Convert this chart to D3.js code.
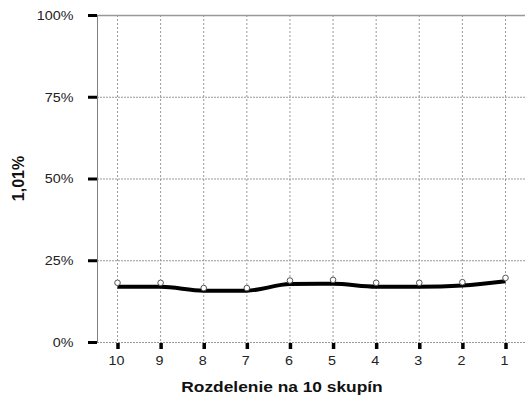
<!DOCTYPE html>
<html><head><meta charset="utf-8">
<script src="https://cdn.jsdelivr.net/npm/d3@7"></script>
<style>body{margin:0;background:#fff;}svg{display:block;font-family:"Liberation Sans",Arial,sans-serif;}</style>
</head><body>
<svg id="c" width="525" height="396"></svg>
<script>
const categories = ["10","9","8","7","6","5","4","3","2","1"];
const markerValues = [18.1, 18.1, 16.5, 16.5, 18.8, 19.0, 18.1, 18.1, 18.3, 19.6];
const lineValues = [16.9, 16.9, 15.7, 15.7, 17.7, 17.8, 16.9, 16.9, 17.3, 18.6];
const yTicks = [0, 25, 50, 75, 100];

const svg = d3.select("#c");
const L = 97, R = 525, T = 15, B = 342;
const SX = 1.12;
const x = d3.scalePoint().domain(categories).range([117.5, 505.5]);
const y = d3.scaleLinear().domain([0, 100]).range([B, T]);

// vertical grid
svg.append("g").selectAll("line").data(categories).join("line")
  .attr("x1", d => x(d)).attr("x2", d => x(d)).attr("y1", T).attr("y2", B)
  .attr("stroke", "#999").attr("stroke-width", 1).attr("stroke-dasharray", "2,2");
// horizontal grid
svg.append("g").selectAll("line").data(yTicks).join("line")
  .attr("x1", L).attr("x2", R).attr("y1", d => y(d) + 0.5).attr("y2", d => y(d) + 0.5)
  .attr("stroke", "#999").attr("stroke-width", d => d === 100 ? 1.5 : 1)
  .attr("stroke-dasharray", d => d === 100 ? null : "2,1");
// left axis line
svg.append("line").attr("x1", L + 0.5).attr("x2", L + 0.5).attr("y1", T).attr("y2", B + 1)
  .attr("stroke", "#808080").attr("stroke-width", 1);

// y axis
const yAxis = d3.axisLeft(y).tickValues(yTicks).tickFormat(d => d + "%").tickSize(9).tickPadding(6);
const gy = svg.append("g").attr("transform", `translate(${L},0)`).call(yAxis);
gy.select(".domain").remove();
gy.selectAll(".tick line").attr("stroke", "#000").attr("stroke-width", 3);
gy.selectAll(".tick text").attr("font-size", 12.8).attr("fill", "#222")
  .attr("font-family", "Liberation Sans, Arial, sans-serif")
  .attr("x", 0).attr("dy", "0.35em").attr("transform", `translate(-23.5,0) scale(${SX},1)`);

// x axis
const xAxis = d3.axisBottom(x).tickSize(6).tickPadding(5);
const gx = svg.append("g").attr("transform", `translate(0,${B + 1})`).call(xAxis);
gx.select(".domain").remove();
gx.selectAll(".tick line").attr("stroke", "#000").attr("stroke-width", 3.5);
gx.selectAll(".tick text").attr("font-size", 12.8).attr("fill", "#222")
  .attr("font-family", "Liberation Sans, Arial, sans-serif")
  .attr("y", 22).attr("dy", 0).attr("transform", `translate(-1.5,0) scale(${SX},1)`);

// line
const line = d3.line().x((d, i) => x(categories[i])).y(d => y(d)).curve(d3.curveMonotoneX);
svg.append("path").datum(lineValues).attr("d", line)
  .attr("fill", "none").attr("stroke", "#000").attr("stroke-width", 4);

// markers
svg.append("g").selectAll("circle").data(markerValues).join("circle")
  .attr("cx", (d, i) => x(categories[i])).attr("cy", d => y(d)).attr("r", 2.8)
  .attr("fill", "#fff").attr("stroke", "#555").attr("stroke-width", 1);

// titles
svg.append("text").attr("transform", `translate(282,392) scale(${SX},1)`).attr("text-anchor", "middle")
  .attr("font-size", 15.5).attr("font-weight", "bold").attr("fill", "#111").text("Rozdelenie na 10 skupín");
svg.append("text").attr("transform", `translate(24,${y(50)}) rotate(-90)`).attr("text-anchor", "middle")
  .attr("font-size", 16).attr("font-weight", "bold").attr("fill", "#111").text("1,01%");
</script>
</body></html>
